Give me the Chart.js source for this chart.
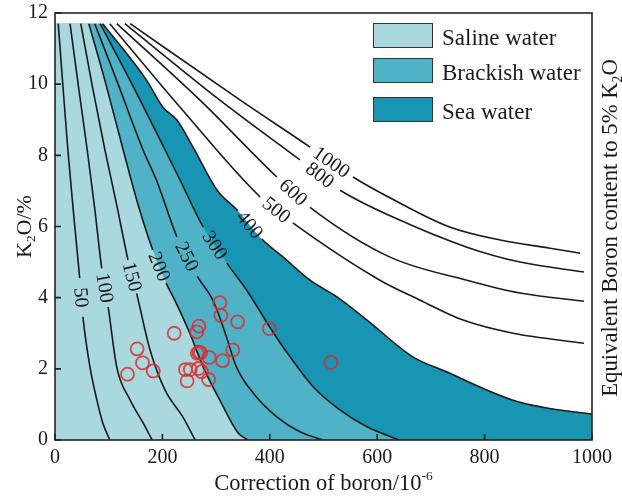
<!DOCTYPE html>
<html><head><meta charset="utf-8">
<script src="https://cdn.jsdelivr.net/npm/chart.js@4.4.1/dist/chart.umd.min.js"></script>
<style>html,body{margin:0;padding:0;background:#fff}</style>
</head><body>
<canvas id="c" width="622" height="501"></canvas>
<script>
// ---------- data ----------
const X_TICKS = [0, 200, 400, 600, 800, 1000];
const Y_TICKS = [0, 2, 4, 6, 8, 10, 12];
const TOP_K2O = 11.7;

// contour curves of equivalent boron: [corrected boron, K2O %]
const curve50   = [[6,11.7],[15,9.9],[24,8.15],[35,6.3],[46,4.55],[52,3.46],[65,2.06],[78,1.12],[89,0.48],[102,0]];
const curve100  = [[28,11.7],[44,9.9],[60,8.15],[74,6.5],[87,4.82],[99,3.74],[115,2.05],[140,1.12],[164,0.48],[181,0]];
const curve150  = [[48,11.7],[70,9.9],[93,8.15],[115,6.6],[136,5.06],[152,4.12],[177,2.53],[205,1.4],[238,0.65],[261,0]];
const curve200  = [[63,11.7],[93,10.1],[127,8.15],[155,6.6],[182,5.34],[207,4.41],[223,3.93],[251,3.0],[276,2.05],[307,1.12],[341,0.2],[359,0]];
const curve250  = [[74,11.7],[115,10.1],[164,8.15],[189,7.3],[227,5.71],[265,4.6],[295,3.9],[317,3.0],[338,2.05],[369,1.32],[413,0.65],[456,0.23],[499,0]];
const curve300  = [[84,11.7],[140,10.1],[205,8.15],[233,7.3],[276,5.98],[320,4.97],[357,4.21],[400,3.17],[438,2.33],[481,1.49],[531,0.84],[581,0.37],[640,0]];
const curve400  = [[89,11.7],[171,10.1],[201,9.35],[227,8.99],[257,8.23],[302,7.02],[340,6.45],[385,5.65],[425,5.14],[475,4.49],[525,4.02],[581,3.37],[667,2.33],[730,1.91],[791,1.49],[853,1.12],[916,0.9],[1000,0.73]];
const curve500  = [[102,11.7],[233,9.35],[382,6.83],[443,6.1],[605,4.49],[680,3.93],[760,3.37],[853,3.0],[985,2.72]];
const curve600  = [[115,11.7],[270,9.55],[413,7.39],[475,6.54],[624,5.14],[767,4.49],[866,4.13],[985,3.9]];
const curve800  = [[130,11.7],[307,9.55],[456,7.87],[531,7.02],[642,6.18],[767,5.42],[866,5.0],[985,4.72]];
const curve1000 = [[140,11.7],[345,9.55],[475,8.23],[555,7.39],[642,6.66],[736,5.98],[829,5.62],[922,5.39],[978,5.25]];

const contourNames = ['50','100','150','200','250','300','400','500','600','800','1000'];
const contourCurves = [curve50,curve100,curve150,curve200,curve250,curve300,curve400,curve500,curve600,curve800,curve1000];
const contourLabelGap = [4,4,4,4,4,4,6,2,2,2,2]; // label sits between point i and i+1

// sample points
const sampleBoron = [135,153,163,183,222,243,252,246,264,268,265,268,271,267,273,286,287,307,309,312,331,340,399,514];
const sampleK2O   = [1.85,2.56,2.17,1.94,3.0,1.98,1.98,1.66,3.04,3.2,2.44,2.47,2.45,2.01,1.92,1.7,2.32,3.86,3.5,2.23,2.53,3.32,3.13,2.18];

const zoneNames = ['Saline water','Brackish water','Sea water'];

// ---------- styles ----------
const FONT = "'Liberation Serif','Times New Roman',serif";
const INK = '#1a1a1a';
const C_SALINE = '#a9d8df', C_BRACK = '#4fb2c7', C_SEA = '#1795b3';
const pts = a => a.map(p => ({x:p[0], y:p[1]}));

const datasets = [];
// contour lines
contourCurves.forEach((c, i) => {
  const gap = contourLabelGap[i];
  datasets.push({
    label: 'B ' + contourNames[i], data: pts(c), borderColor: INK, borderWidth: 1.6,
    pointRadius: 0, fill: false, cubicInterpolationMode: 'monotone', order: 5,
    segment: { borderColor: ctx => ctx.p0DataIndex === gap ? 'rgba(0,0,0,0)' : undefined }
  });
});
// zone fills (curve part + top strip)
function zone(curve, color, order){
  datasets.push({ label:'fill', data: pts(curve), fill:'origin', backgroundColor: color, borderWidth:0,
    pointRadius:0, cubicInterpolationMode:'monotone', order });
  datasets.push({ label:'strip', data: pts([[0,TOP_K2O],[curve[0][0]+1,TOP_K2O]]), fill:'origin',
    backgroundColor: color, borderWidth:0, pointRadius:0, order: order+1 });
}
zone(curve400, C_SEA, 30);
zone(curve300, C_BRACK, 20);
zone(curve200, C_SALINE, 10);
// samples
datasets.push({ label:'samples', data: sampleBoron.map((b,i)=>({x:b, y:sampleK2O[i]})), showLine:false,
  pointRadius:6.5, pointBorderWidth:1.8, pointBackgroundColor:'rgba(0,0,0,0)',
  pointBorderColor:'rgba(222,45,45,0.85)', order:0 });

function drawRich(ctx, parts, cx, cy, size, rot){
  ctx.save(); ctx.translate(cx, cy); ctx.rotate(rot);
  ctx.fillStyle = INK; ctx.textBaseline = 'alphabetic'; ctx.textAlign = 'left';
  const f = p => ((p.sub||p.sup) ? size*0.6 : size) + 'px ' + FONT;
  let w = 0; parts.forEach(p => { ctx.font = f(p); w += ctx.measureText(p.t).width; });
  let xx = -w/2;
  parts.forEach(p => { ctx.font = f(p); const dy = p.sub ? size*0.2 : (p.sup ? -size*0.45 : 0);
    ctx.fillText(p.t, xx, dy); xx += ctx.measureText(p.t).width; });
  ctx.restore();
}

const decor = {
  id: 'decor',
  afterDatasetsDraw(chart){
    const {ctx, chartArea:a, scales:{x, y}} = chart;
    // contour labels
    contourCurves.forEach((c, i) => {
      const g = contourLabelGap[i], p = c[g], q = c[g+1];
      const ax = x.getPixelForValue(p[0]), ay = y.getPixelForValue(p[1]);
      const bx = x.getPixelForValue(q[0]), by = y.getPixelForValue(q[1]);
      ctx.save(); ctx.translate((ax+bx)/2, (ay+by)/2); ctx.rotate(Math.atan2(by-ay, bx-ax));
      ctx.font = '20px ' + FONT; ctx.fillStyle = INK; ctx.textAlign = 'center'; ctx.textBaseline = 'middle';
      ctx.fillText(contourNames[i], 0, 1); ctx.restore();
    });
    // frame
    ctx.save(); ctx.strokeStyle = '#222'; ctx.lineWidth = 1.6;
    ctx.strokeRect(a.left, a.top, a.right - a.left, a.bottom - a.top);
    // inward ticks
    ctx.beginPath();
    X_TICKS.forEach(v => { const px = x.getPixelForValue(v); ctx.moveTo(px, a.bottom); ctx.lineTo(px, a.bottom - 6); });
    Y_TICKS.forEach(v => { const py = y.getPixelForValue(v); ctx.moveTo(a.left, py); ctx.lineTo(a.left + 6, py); });
    ctx.stroke(); ctx.restore();
    // legend
    const cols = [C_SALINE, C_BRACK, C_SEA], tops = [23, 58, 97];
    ctx.save();
    zoneNames.forEach((n, i) => {
      ctx.fillStyle = cols[i]; ctx.fillRect(373, tops[i], 60, 25);
      ctx.strokeStyle = '#333'; ctx.lineWidth = 1; ctx.strokeRect(373.5, tops[i]+0.5, 59, 24);
      ctx.fillStyle = INK; ctx.font = '23px ' + FONT; ctx.textBaseline = 'alphabetic'; ctx.textAlign = 'left';
      ctx.fillText(n, 442, tops[i] + 21.5);
    });
    ctx.restore();
    // axis titles
    drawRich(ctx, [{t:'Correction of boron/10'},{t:'-6', sup:true}], (a.left+a.right)/2, 490, 22.5, 0);
    drawRich(ctx, [{t:'K'},{t:'2', sub:true},{t:'O/%'}], 31, (a.top+a.bottom)/2, 22, -Math.PI/2);
    drawRich(ctx, [{t:'Equivalent Boron content to 5% K'},{t:'2', sub:true},{t:'O'}], 617, 228, 22.7, -Math.PI/2);
  }
};

new Chart(document.getElementById('c'), {
  type: 'line',
  data: { datasets },
  options: {
    responsive: false, animation: false, events: [],
    layout: { padding: { top: 13, right: 30, left: 0, bottom: 0 } },
    plugins: { legend: { display: false }, tooltip: { enabled: false } },
    scales: {
      x: { type: 'linear', min: 0, max: 1000,
        afterBuildTicks: s => { s.ticks = X_TICKS.map(v => ({value: v})); },
        afterFit: s => { s.height = 61; s.paddingLeft = 0; s.paddingRight = 0; s.paddingTop = 0; s.paddingBottom = 0; },
        grid: { display: false, drawTicks: false }, border: { display: false },
        ticks: { font: { family: FONT, size: 20 }, color: INK, padding: 6, maxRotation: 0, callback: v => String(v) } },
      y: { type: 'linear', min: 0, max: 12,
        afterBuildTicks: s => { s.ticks = Y_TICKS.map(v => ({value: v})); },
        afterFit: s => { s.width = 55; s.paddingLeft = 0; s.paddingRight = 0; s.paddingTop = 0; s.paddingBottom = 0; },
        grid: { display: false, drawTicks: false }, border: { display: false },
        ticks: { font: { family: FONT, size: 20 }, color: INK, padding: 7, callback: v => String(v) } }
    }
  },
  plugins: [decor]
});
</script>
</body></html>
